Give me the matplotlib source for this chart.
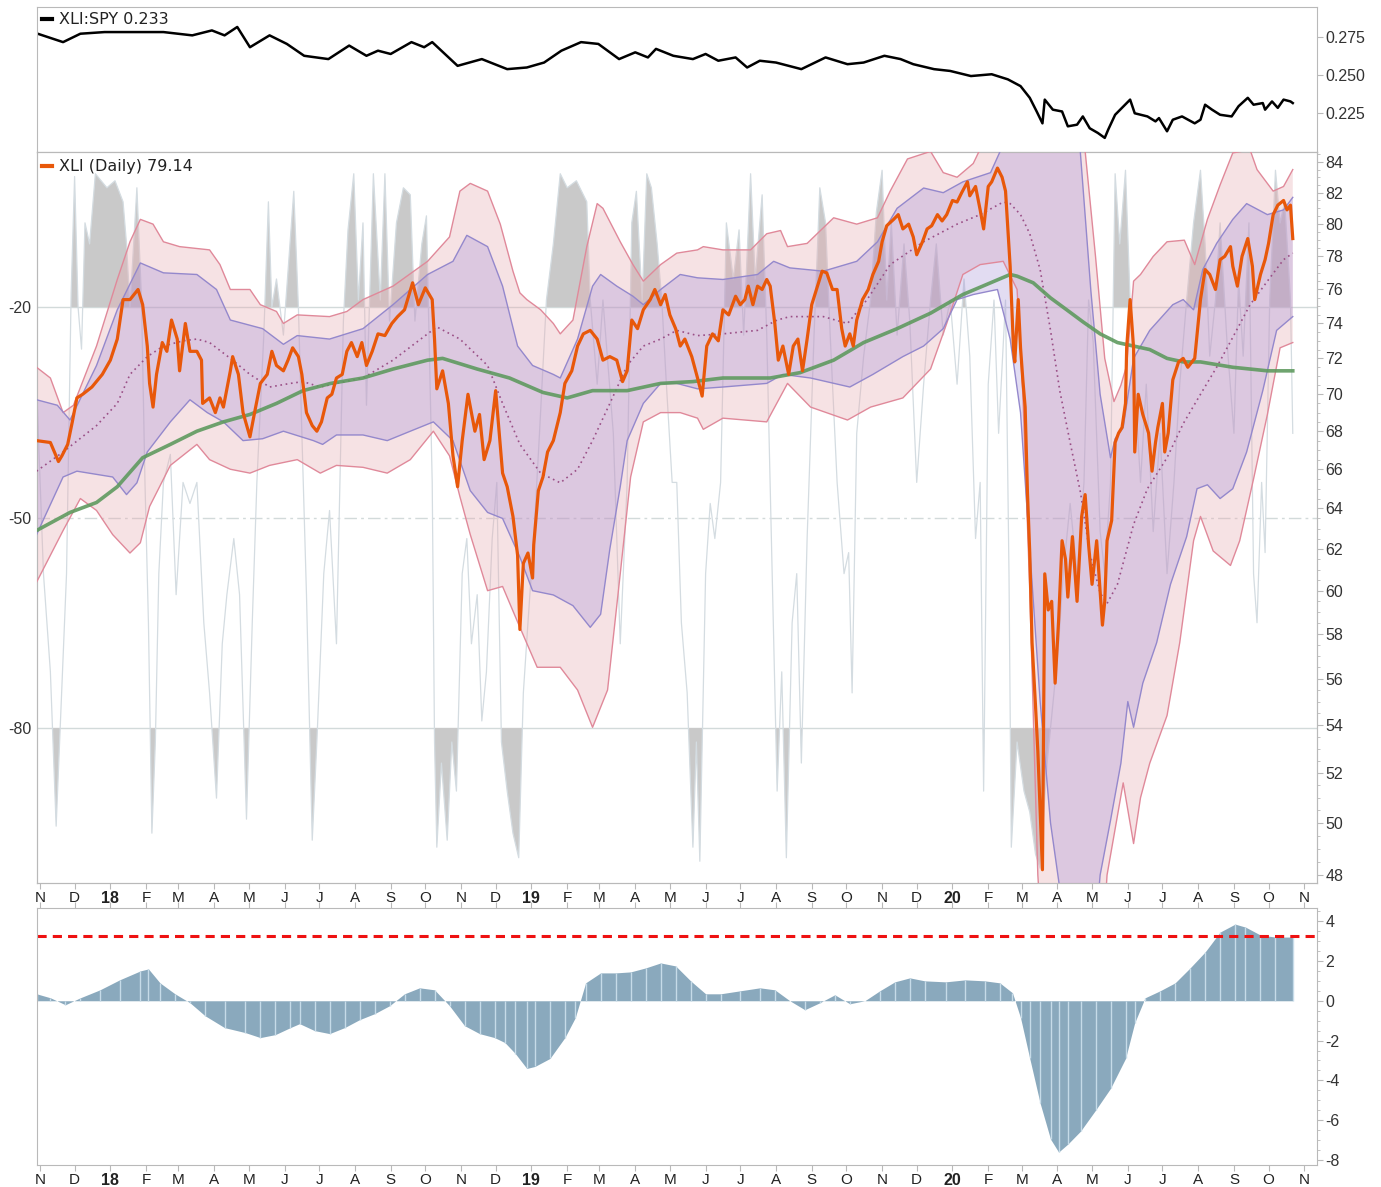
import numpy as np
import pandas as pd
import matplotlib
matplotlib.use('Agg')
import matplotlib.pyplot as plt
from matplotlib.lines import Line2D
from matplotlib.ticker import FixedLocator, NullFormatter

plt.rcParams['axes.unicode_minus'] = False

# all x values are days since 2017-11-01

# XLI daily close
price_day = [-3, 9, 16, 19, 24, 28, 32, 37, 45, 54, 61, 67, 72, 78, 85, 89, 93, 95, 98, 101,
             106, 110, 114, 119, 121, 126, 130, 136, 140, 141, 147, 152, 156, 159, 165, 167, 172, 176, 182, 186,
             191, 197, 201, 205, 211, 215, 219, 224, 227, 231, 236, 240, 244, 249, 253, 257, 262, 266, 270, 275,
             279, 283, 288, 293, 299, 305, 310, 316, 323, 328, 334, 340, 342, 344, 349, 354, 358, 362, 366, 371,
             377, 381, 385, 390, 395, 401, 405, 410, 414, 416, 419, 423, 427, 428, 432, 436, 440, 445, 451, 455,
             461, 466, 471, 477, 483, 488, 494, 500, 505, 509, 513, 518, 523, 529, 533, 538, 542, 546, 551, 555,
             559, 565, 570, 574, 578, 583, 588, 592, 597, 603, 607, 611, 614, 618, 622, 626, 630, 633, 637, 640,
             644, 649, 653, 657, 661, 665, 669, 674, 678, 682, 687, 691, 695, 698, 702, 705, 708, 713, 718, 722,
             727, 730, 734, 740, 744, 748, 753, 757, 760, 765, 769, 773, 778, 782, 786, 791, 795, 799, 804, 806,
             811, 815, 818, 822, 825, 830, 834, 837, 839, 841, 844, 845, 848, 850, 852, 854, 856, 858, 860, 863,
             865, 869, 870, 871, 874, 877, 880, 883, 886, 889, 891, 895, 899, 903, 906, 909, 912, 916, 921, 923,
             925, 929, 932, 935, 938, 941, 942, 945, 948, 949, 952, 956, 961, 964, 967, 969, 973, 975, 978, 982,
             987, 991, 995, 1001, 1006, 1010, 1014, 1019, 1023, 1027, 1032, 1034, 1038, 1042, 1047, 1051, 1053, 1058, 1062, 1065,
             1069, 1073, 1078, 1081, 1084, 1086]
price = [67.5, 67.4, 66.4, 66.7, 67.3, 68.5, 69.8, 70.0, 70.4, 71.1, 71.9, 73.1, 75.4, 75.4, 76.0, 75.1, 72.7, 70.6, 69.3, 71.1,
         72.9, 72.4, 74.2, 73.1, 71.3, 74.0, 72.4, 72.4, 71.9, 69.5, 69.8, 69.0, 69.8, 69.3, 71.3, 72.1, 71.1, 69.0, 67.7, 69.0,
         70.6, 71.1, 72.4, 71.6, 71.3, 71.9, 72.6, 72.1, 71.1, 69.0, 68.3, 68.0, 68.5, 69.8, 70.0, 70.9, 71.1, 72.4, 72.9, 72.1,
         72.9, 71.6, 72.4, 73.4, 73.3, 74.0, 74.4, 74.8, 76.4, 75.1, 76.1, 75.4, 73.1, 70.3, 71.3, 69.5, 66.7, 65.1, 67.5, 70.0,
         68.0, 68.9, 66.5, 67.5, 70.2, 65.8, 65.1, 63.6, 61.7, 58.2, 61.3, 61.8, 60.6, 62.2, 64.9, 65.6, 66.9, 67.5, 69.0, 70.6,
         71.3, 72.7, 73.4, 73.6, 73.1, 71.9, 72.1, 71.9, 70.7, 71.3, 74.2, 73.7, 74.8, 75.4, 76.0, 75.1, 75.7, 74.5, 73.7, 72.7,
         73.1, 72.1, 70.9, 69.9, 72.7, 73.4, 73.0, 74.8, 74.5, 75.6, 75.1, 75.4, 76.2, 75.1, 76.2, 76.0, 76.6, 76.2, 74.0, 71.9,
         72.7, 71.1, 72.7, 73.1, 71.3, 73.1, 75.1, 76.2, 77.1, 77.0, 76.0, 76.0, 73.7, 72.7, 73.4, 72.7, 74.2, 75.4, 76.0, 76.9,
         77.7, 78.9, 79.9, 80.3, 80.6, 79.7, 80.0, 79.2, 78.1, 78.9, 79.7, 79.9, 80.6, 80.2, 80.6, 81.5, 81.4, 82.0, 82.7, 81.8,
         82.4, 80.9, 79.7, 82.4, 82.7, 83.6, 83.0, 82.1, 79.7, 77.4, 72.4, 71.8, 75.4, 72.6, 70.8, 69.3, 64.8, 61.8, 57.6, 54.8,
         52.9, 48.2, 54.4, 60.8, 59.1, 59.5, 55.8, 58.6, 62.4, 61.5, 59.7, 62.6, 59.5, 63.6, 64.7, 62.2, 60.3, 62.4, 58.4, 59.5,
         62.4, 63.4, 67.4, 67.9, 68.2, 69.5, 72.6, 75.4, 72.6, 66.9, 70.0, 68.9, 67.9, 65.9, 67.4, 68.2, 69.5, 66.9, 67.9, 70.8,
         71.8, 72.0, 71.5, 72.0, 75.4, 77.2, 76.9, 76.0, 77.8, 78.0, 78.6, 77.4, 76.2, 78.0, 79.1, 77.4, 75.4, 76.9, 77.8, 78.8,
         80.6, 81.2, 81.5, 80.9, 81.2, 79.1]

# 200-day moving average
ma_day = [-3, 26, 49, 67, 89, 113, 136, 159, 182, 205, 228, 252, 280, 306, 336, 349, 379, 407, 436, 457,
          479, 509, 538, 566, 592, 633, 659, 688, 714, 743, 772, 800, 824, 841, 847, 861, 876, 890, 904, 919,
          934, 948, 962, 977, 991, 1006, 1034, 1064, 1086]
ma200 = [62.9, 63.8, 64.3, 65.1, 66.6, 67.3, 68.0, 68.5, 68.9, 69.5, 70.2, 70.6, 70.9, 71.4, 71.9, 72.0, 71.4, 70.9, 70.1, 69.8,
         70.2, 70.2, 70.6, 70.7, 70.9, 70.9, 71.2, 71.9, 72.9, 73.7, 74.6, 75.7, 76.4, 76.9, 76.8, 76.4, 75.5, 74.8, 74.1, 73.4,
         72.9, 72.7, 72.5, 72.0, 71.8, 71.8, 71.5, 71.3, 71.3]

# outer (pink) envelope
up_day = [-3, 9, 20, 29, 49, 67, 78, 87, 98, 107, 121, 147, 156, 165, 182, 191, 205, 211, 223, 251,
          266, 280, 306, 336, 355, 364, 373, 388, 399, 410, 416, 422, 434, 445, 451, 462, 474, 483, 488, 503,
          514, 523, 538, 552, 570, 575, 592, 616, 630, 642, 648, 665, 688, 708, 726, 737, 752, 772, 783, 795,
          809, 819, 832, 867, 897, 905, 915, 923, 931, 937, 942, 948, 954, 965, 977, 992, 1001, 1012, 1023, 1034,
          1049, 1055, 1069, 1078, 1086]
up = [71.5, 70.9, 69.0, 69.4, 72.7, 76.6, 78.9, 80.3, 80.0, 78.9, 78.6, 78.4, 77.5, 76.0, 76.0, 75.1, 74.7, 74.0, 74.5, 74.4,
      74.7, 75.4, 76.2, 77.7, 79.2, 82.1, 82.6, 82.1, 80.0, 77.1, 75.8, 75.4, 74.8, 74.0, 73.4, 74.2, 78.6, 81.3, 81.0, 78.9,
      77.5, 76.5, 77.5, 78.2, 78.4, 78.6, 78.4, 78.4, 79.4, 79.6, 78.6, 78.8, 80.4, 80.0, 80.4, 82.1, 84.2, 84.7, 83.3, 83.0,
      83.9, 85.5, 90.0, 95.0, 92.0, 85.5, 78.0, 72.0, 69.6, 70.5, 71.6, 76.5, 76.9, 78.0, 78.9, 79.0, 77.5, 80.3, 82.5, 84.6,
      84.8, 83.5, 82.1, 82.4, 83.5]
lp_day = [-3, 20, 35, 49, 63, 78, 87, 95, 113, 136, 147, 165, 182, 199, 223, 243, 257, 280, 301, 321,
          341, 355, 364, 373, 388, 401, 416, 431, 451, 466, 479, 492, 503, 512, 523, 538, 555, 570, 575, 592,
          630, 648, 668, 700, 720, 748, 772, 786, 800, 815, 835, 847, 852, 858, 865, 871, 919, 925, 939, 948,
          954, 962, 977, 988, 1000, 1006, 1017, 1032, 1040, 1052, 1064, 1075, 1086]
lp = [60.4, 62.9, 64.5, 63.9, 62.7, 61.8, 62.3, 64.1, 66.2, 67.3, 66.5, 66.0, 65.8, 66.2, 66.5, 65.8, 66.2, 66.1, 65.8, 66.5,
      68.0, 66.7, 64.6, 62.7, 60.0, 60.2, 58.3, 56.5, 56.5, 55.5, 53.9, 55.5, 60.8, 65.6, 68.5, 69.0, 69.0, 68.7, 68.1, 68.7,
      68.5, 70.6, 69.3, 68.6, 69.3, 69.8, 71.4, 74.0, 76.9, 77.5, 77.7, 76.0, 70.0, 60.0, 48.0, 44.0, 44.0, 48.0, 51.6, 49.2,
      51.0, 52.4, 54.4, 57.6, 62.4, 63.6, 61.9, 61.2, 62.4, 65.5, 68.9, 72.6, 72.9]

# inner (purple) band and its middle line
ub_day = [-3, 15, 26, 49, 67, 87, 107, 136, 153, 165, 193, 211, 223, 251, 280, 306, 336, 358, 370, 388,
          401, 414, 427, 445, 451, 466, 479, 486, 500, 514, 523, 538, 555, 570, 592, 622, 636, 650, 679, 708,
          726, 743, 766, 783, 800, 824, 837, 858, 884, 901, 911, 919, 928, 932, 939, 948, 962, 982, 991, 1000,
          1008, 1020, 1034, 1046, 1064, 1078, 1086]
ub = [69.7, 69.4, 68.6, 71.6, 74.8, 77.6, 77.0, 76.9, 76.0, 74.2, 73.7, 72.8, 73.3, 73.1, 73.7, 75.1, 76.9, 77.7, 79.3, 78.6,
      76.2, 72.7, 71.6, 71.1, 70.9, 73.1, 76.2, 76.9, 76.2, 75.6, 75.1, 76.0, 76.9, 76.7, 76.6, 76.9, 77.7, 77.3, 77.1, 77.7,
      78.9, 81.0, 82.3, 82.0, 82.7, 83.3, 85.5, 95.0, 95.0, 85.5, 75.9, 70.0, 66.6, 67.6, 68.2, 72.0, 73.6, 75.1, 75.4, 74.8,
      77.2, 78.8, 80.3, 81.3, 80.6, 80.9, 81.7]
mid_day = [-3, 20, 49, 67, 78, 93, 107, 124, 136, 147, 165, 182, 199, 217, 228, 243, 257, 280, 306, 336,
           344, 364, 388, 401, 416, 434, 451, 466, 479, 494, 509, 523, 538, 552, 570, 592, 622, 639, 650, 679,
           700, 717, 737, 766, 795, 815, 835, 841, 850, 858, 867, 876, 884, 893, 902, 910, 919, 925, 934, 948,
           960, 977, 991, 1006, 1020, 1034, 1049, 1064, 1078, 1086]
mid = [65.9, 66.9, 68.3, 69.5, 71.1, 72.1, 72.7, 73.0, 73.1, 72.9, 72.0, 71.1, 70.4, 70.6, 70.7, 70.4, 70.6, 70.9, 71.9, 73.4,
       73.8, 73.1, 71.6, 69.5, 67.3, 65.8, 65.3, 66.0, 67.5, 69.5, 71.6, 72.7, 73.1, 73.6, 73.3, 73.4, 73.6, 74.2, 74.4, 74.4,
       74.0, 75.4, 77.5, 78.9, 80.0, 80.6, 81.4, 81.3, 80.6, 79.4, 77.2, 73.6, 70.2, 67.4, 64.8, 61.8, 59.9, 59.4, 60.3, 63.2,
       65.0, 66.6, 68.4, 70.0, 71.5, 73.2, 75.1, 76.5, 77.8, 78.2]
lb_day = [-3, 20, 32, 63, 75, 84, 93, 113, 130, 145, 159, 176, 193, 211, 237, 245, 257, 280, 301, 321,
          341, 358, 373, 388, 401, 416, 427, 445, 462, 477, 486, 494, 503, 509, 523, 538, 552, 570, 592, 630,
          644, 668, 702, 722, 748, 766, 783, 795, 809, 830, 841, 850, 858, 867, 876, 884, 893, 911, 919, 928,
          937, 943, 948, 956, 968, 980, 994, 1003, 1012, 1023, 1034, 1046, 1060, 1072, 1086]
lb = [62.7, 65.6, 65.9, 65.6, 64.7, 65.3, 66.9, 68.5, 69.7, 69.0, 68.5, 67.5, 67.6, 68.0, 67.5, 67.3, 67.8, 67.8, 67.5, 68.0,
      68.5, 67.5, 64.9, 63.8, 63.5, 61.6, 60.0, 59.8, 59.3, 58.3, 58.9, 62.0, 65.1, 67.5, 69.5, 70.6, 70.6, 70.3, 70.4, 70.6,
      71.1, 70.9, 70.4, 71.1, 72.1, 72.7, 73.7, 75.4, 75.7, 76.0, 73.1, 69.0, 62.0, 55.0, 50.0, 47.5, 44.0, 44.0, 48.0, 50.1,
      52.4, 55.0, 53.9, 55.8, 57.6, 60.3, 62.6, 65.0, 65.2, 64.5, 65.0, 66.9, 70.2, 73.6, 74.4]

# Williams %R (left scale)
wr_day = [-3, 3, 9, 14, 19, 23, 27, 30, 33, 36, 39, 43, 48, 58, 65, 72, 75, 78, 84, 88,
          91, 94, 97, 100, 103, 107, 113, 118, 124, 130, 136, 142, 147, 153, 158, 162, 168, 173, 179, 184,
          188, 194, 198, 201, 205, 211, 220, 224, 227, 231, 236, 240, 246, 251, 257, 263, 267, 272, 276, 280,
          283, 289, 295, 299, 303, 309, 315, 321, 325, 331, 335, 340, 342, 344, 348, 353, 357, 361, 366, 370,
          374, 379, 383, 387, 392, 396, 400, 405, 410, 415, 419, 423, 428, 433, 439, 445, 451, 457, 465, 474,
          477, 483, 488, 497, 503, 509, 513, 517, 522, 526, 530, 535, 539, 543, 548, 552, 556, 561, 566, 569,
          572, 577, 581, 585, 590, 595, 601, 606, 610, 616, 620, 626, 630, 634, 639, 643, 647, 652, 656, 660,
          665, 671, 676, 681, 685, 691, 697, 701, 704, 708, 714, 720, 725, 730, 734, 738, 743, 749, 754, 760,
          766, 772, 777, 783, 789, 795, 801, 806, 811, 815, 818, 822, 827, 831, 837, 840, 842, 847, 853, 858,
          863, 867, 873, 879, 883, 887, 893, 899, 905, 909, 913, 919, 923, 928, 932, 936, 941, 945, 949, 954,
          959, 965, 971, 977, 983, 988, 994, 1000, 1006, 1010, 1014, 1019, 1023, 1029, 1035, 1039, 1043, 1048, 1052, 1055,
          1059, 1062, 1066, 1071, 1075, 1079, 1084, 1086]
wr = [-31, -58, -72, -94, -74, -58, -18, -1.4, -20, -26, -8, -11, -1, -3, -2, -5, -11, -20, -3, -19,
      -45, -65, -95, -82, -58, -45, -41, -61, -45, -48, -45, -65, -75, -90, -68, -61, -53, -61, -93, -65,
      -45, -24, -5, -20, -16, -24, -3.5, -20, -38, -61, -96, -82, -58, -49, -68, -22, -9, -1, -19, -8,
      -34, -1, -19, -1, -22, -8, -3, -4, -22, -11, -7, -45, -82, -97, -85, -96, -82, -89, -58, -53,
      -68, -61, -79, -72, -53, -45, -82, -89, -95, -98.5, -75, -65, -53, -38, -19, -11, -1, -3, -2, -5,
      -19, -31, -19, -38, -68, -45, -8, -3.5, -19, -1, -3, -11, -19, -31, -45, -45, -65, -75, -97, -82,
      -99, -58, -48, -53, -45, -8, -16, -9, -24, -1, -16, -4, -24, -53, -89, -72, -98.5, -65, -58, -85,
      -53, -24, -3, -8, -24, -45, -58, -55, -75, -38, -27, -19, -6.5, -0.5, -19, -8, -24, -11, -22, -45,
      -31, -19, -11, -24, -19, -31, -16, -27, -53, -45, -89, -31, -19, -38, -19, -58, -97, -82, -89, -92,
      -98, -100, -85, -75, -68, -58, -48, -58, -45, -19, -25, -52, -58, -45, -1, -11, -0.5, -19, -31, -45,
      -31, -52, -38, -58, -45, -31, -19, -8, -0.5, -11, -27, -19, -8, -25, -38, -16, -27, -8, -58, -65,
      -45, -55, -19, -0.5, -8, -5, -19, -38]

# XLI:SPY ratio
ratio_day = [-2, 20, 35, 56, 78, 107, 132, 149, 160, 171, 182, 199, 214, 229, 250, 268, 283, 293, 304, 322,
             333, 340, 362, 383, 405, 422, 437, 452, 469, 484, 502, 516, 527, 534, 549, 566, 577, 588, 603, 613,
             624, 638, 660, 681, 700, 714, 732, 746, 757, 775, 789, 807, 825, 839, 850, 858, 864, 869, 871, 878,
             886, 891, 899, 904, 910, 917, 923, 926, 932, 945, 949, 960, 967, 970, 977, 982, 990, 1001, 1006, 1010,
             1016, 1023, 1033, 1039, 1047, 1052, 1060, 1062, 1068, 1073, 1078, 1084, 1086]
ratio = [0.2775, 0.2719, 0.2775, 0.2786, 0.2786, 0.2786, 0.2764, 0.2797, 0.2764, 0.2820, 0.2685, 0.2764, 0.2707, 0.2628, 0.2606, 0.2696, 0.2628, 0.2662, 0.2640, 0.2719,
         0.2685, 0.2719, 0.2561, 0.2606, 0.2539, 0.2550, 0.2583, 0.2662, 0.2719, 0.2707, 0.2606, 0.2651, 0.2617, 0.2674, 0.2628, 0.2606, 0.2640, 0.2595, 0.2617, 0.2550,
         0.2595, 0.2583, 0.2539, 0.2617, 0.2572, 0.2583, 0.2628, 0.2606, 0.2572, 0.2539, 0.2527, 0.2493, 0.2505, 0.2471, 0.2426, 0.2348, 0.2257, 0.2178, 0.2336, 0.2269,
         0.2257, 0.2158, 0.2169, 0.2224, 0.2145, 0.2114, 0.2081, 0.2136, 0.2235, 0.2336, 0.2245, 0.2224, 0.2191, 0.2213, 0.2125, 0.2202, 0.2224, 0.2178, 0.2202, 0.2302,
         0.2269, 0.2235, 0.2224, 0.2292, 0.2348, 0.2302, 0.2313, 0.2269, 0.2324, 0.2281, 0.2336, 0.2324, 0.2313]

# lower histogram
hist_day = [-3, 9, 22, 35, 52, 69, 87, 94, 104, 117, 130, 143, 160, 178, 191, 204, 217, 225, 238, 251,
            264, 277, 290, 303, 316, 329, 342, 355, 368, 381, 394, 403, 412, 422, 429, 442, 455, 464, 473, 486,
            499, 512, 525, 538, 551, 564, 577, 590, 607, 624, 637, 650, 663, 676, 689, 702, 715, 728, 741, 754,
            767, 785, 802, 819, 832, 843, 850, 858, 867, 876, 883, 891, 902, 915, 928, 941, 949, 958, 971, 984,
            997, 1010, 1023, 1036, 1045, 1058, 1071, 1086]
hist = [0.35, 0.15, -0.2, 0.15, 0.55, 1.05, 1.5, 1.6, 0.9, 0.35, -0.1, -0.75, -1.35, -1.6, -1.85, -1.7, -1.35, -1.15, -1.5, -1.65,
        -1.35, -0.95, -0.65, -0.25, 0.35, 0.65, 0.55, -0.25, -1.25, -1.65, -1.85, -2.1, -2.65, -3.4, -3.3, -2.9, -1.85, -0.85, 0.9, 1.4,
        1.4, 1.45, 1.65, 1.9, 1.75, 1.0, 0.35, 0.35, 0.5, 0.65, 0.55, 0.0, -0.45, -0.1, 0.3, -0.15, 0.0, 0.5, 0.95, 1.15,
        1.0, 0.95, 1.05, 1.0, 0.9, 0.4, -0.85, -2.9, -5.15, -6.95, -7.6, -7.2, -6.55, -5.5, -4.4, -2.9, -1.1, 0.15, 0.5, 0.9,
        1.65, 2.45, 3.45, 3.85, 3.7, 3.3, 3.2, 3.2]
hist_level = 3.25

price_ticks = list(range(48, 85, 2))

start = pd.Timestamp('2017-11-01')
months = pd.date_range('2017-11-01', '2020-11-01', freq='MS')
month_day = [(m - start).days for m in months]
month_lbl = [str(m.year)[2:] if m.month == 1 else m.strftime('%b')[0] for m in months]

W, H = 1381, 1187
fig = plt.figure(figsize=(W / 100, H / 100), dpi=100)


def box(x0, y0, x1, y1):
    return [x0 / W, 1 - y1 / H, (x1 - x0) / W, (y1 - y0) / H]


ax_top = fig.add_axes(box(37, 7, 1317, 152))
ax = fig.add_axes(box(37, 152, 1317, 883))
ax2 = ax.twinx()
ax_bot = fig.add_axes(box(37, 908, 1317, 1165))

narrow = ['Liberation Sans Narrow', 'Liberation Sans', 'DejaVu Sans']
spine_c = '#b9b9b9'
xlim = (-2.6, 1107)

for a in (ax_top, ax, ax2, ax_bot):
    for s in a.spines.values():
        s.set_color(spine_c)
    a.set_xlim(*xlim)

# ---- top panel: ratio
ax_top.plot(ratio_day, ratio, color='black', lw=1.8)
ax_top.set_ylim(0.1987, 0.2953)
ax_top.yaxis.tick_right()
ax_top.set_yticks([0.225, 0.250, 0.275])
ax_top.set_yticklabels(['0.225', '0.250', '0.275'], family=narrow, fontsize=11.5, color='#333')
ax_top.tick_params(axis='y', length=4, color=spine_c, pad=2)
ax_top.tick_params(axis='x', bottom=False, labelbottom=False)

# ---- main panel: Williams %R behind, price with bands on top
wr_a = np.array(wr, dtype=float)
ax.plot(wr_day, wr_a, color='#d4dce1', lw=0.9, zorder=2)
ax.fill_between(wr_day, wr_a, -20, where=wr_a >= -20, interpolate=True, color='#c9c9c9', lw=0, zorder=1)
ax.fill_between(wr_day, wr_a, -80, where=wr_a <= -80, interpolate=True, color='#c9c9c9', lw=0, zorder=1)
ax.axhline(-20, color='#d2dada', lw=1, zorder=0)
ax.axhline(-80, color='#d2dada', lw=1, zorder=0)
ax.axhline(-50, color='#d2dada', lw=1, ls=(0, (9, 3, 2, 3)), zorder=0)
ax.set_ylim(-102.1, 2.1)
ax.set_yticks([-20, -50, -80])
ax.set_yticklabels(['-20', '-50', '-80'], family=narrow, fontsize=11.5, color='#333')
ax.tick_params(axis='y', length=0, pad=4)

ax2.fill(np.r_[up_day, lp_day[::-1]], np.r_[up, lp[::-1]], color='#e8acb2', alpha=0.35, lw=0, zorder=1)
ax2.fill(np.r_[ub_day, lb_day[::-1]], np.r_[ub, lb[::-1]], color='#a08cd7', alpha=0.3, lw=0, zorder=2)
ax2.plot(up_day, up, color='#e0899a', lw=1, zorder=3)
ax2.plot(lp_day, lp, color='#e0899a', lw=1, zorder=3)
ax2.plot(ub_day, ub, color='#9488cc', lw=1, zorder=3)
ax2.plot(lb_day, lb, color='#9488cc', lw=1, zorder=3)
ax2.plot(mid_day, mid, color='#9a4f86', lw=1.2, ls=(0, (1, 2.2)), zorder=4)
ax2.plot(ma_day, ma200, color='#5f9a5f', lw=2.6, alpha=0.9, zorder=5)
ax2.plot(price_day, price, color='#e8580a', lw=2.3, zorder=6)
ax2.set_yscale('log')
ax2.set_ylim(47.7, 84.66)
ax2.yaxis.set_major_locator(FixedLocator(price_ticks))
ax2.yaxis.set_minor_locator(FixedLocator(np.arange(48, 85, 0.5)))
ax2.yaxis.set_minor_formatter(NullFormatter())
ax2.set_yticklabels([str(v) for v in price_ticks], family=narrow, fontsize=11.5, color='#333')
ax2.tick_params(axis='y', which='major', length=4, color=spine_c, pad=2)
ax2.tick_params(axis='y', which='minor', length=2, color=spine_c)

ax.set_xticks(month_day)
ax.set_xticklabels(month_lbl)
ax.tick_params(axis='x', length=4, color=spine_c, pad=2)

# ---- bottom panel: histogram
ax_bot.fill_between(hist_day, hist, 0, color='#8aa9bd', lw=0)
ax_bot.vlines(hist_day, 0, hist, colors='#c6dbe8', lw=1)
ax_bot.axhline(hist_level, color='#ee1111', lw=2.2, ls=(0, (3, 2)))
ax_bot.set_ylim(-8.25, 4.66)
ax_bot.yaxis.tick_right()
bot_ticks = [4, 2, 0, -2, -4, -6, -8]
ax_bot.set_yticks(bot_ticks)
ax_bot.set_yticklabels([str(v) for v in bot_ticks], family=narrow, fontsize=11.5, color='#333')
ax_bot.yaxis.set_minor_locator(FixedLocator(np.arange(-8, 4.6, 0.5)))
ax_bot.tick_params(axis='y', which='major', length=4, color=spine_c, pad=2)
ax_bot.tick_params(axis='y', which='minor', length=2, color=spine_c)
ax_bot.set_xticks(month_day)
ax_bot.set_xticklabels(month_lbl)
ax_bot.tick_params(axis='x', top=True, length=4, color=spine_c, pad=1.5)

for a in (ax, ax_bot):
    for lab, txt in zip(a.get_xticklabels(), month_lbl):
        lab.set_family(narrow)
        lab.set_color('#222')
        if txt.isdigit():
            lab.set_fontsize(11.5)
            lab.set_fontweight('bold')
        else:
            lab.set_fontsize(11)

# ---- legends
fig.add_artist(Line2D([42 / W, 52 / W], [1 - 19 / H] * 2, color='black', lw=3, transform=fig.transFigure))
fig.text(59 / W, 1 - 20 / H, 'XLI:SPY 0.233', fontsize=11.5, color='#222', va='center',
         bbox=dict(facecolor='white', edgecolor='none', alpha=0.75, pad=0.5))
fig.add_artist(Line2D([42 / W, 52 / W], [1 - 166 / H] * 2, color='#e8580a', lw=3, transform=fig.transFigure))
fig.text(59 / W, 1 - 167 / H, 'XLI (Daily) 79.14', fontsize=11.5, color='#222', va='center')

fig.savefig('out.png', dpi=100)
